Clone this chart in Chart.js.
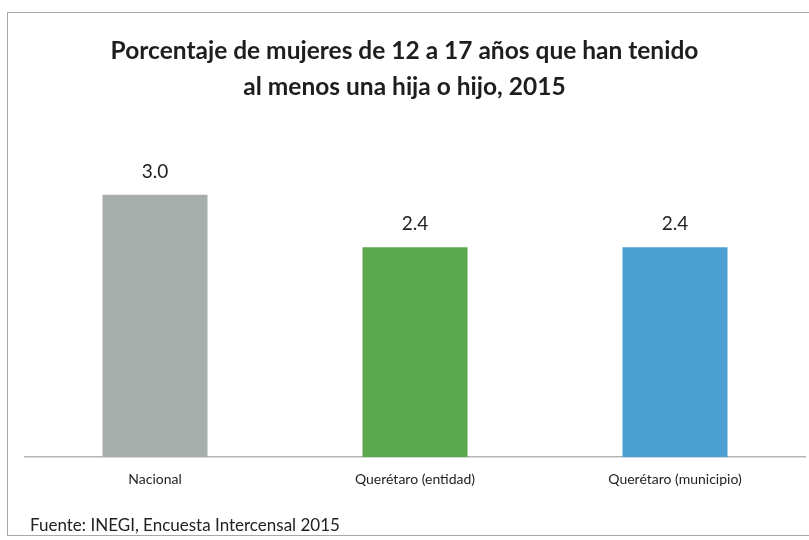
<!DOCTYPE html>
<html>
<head>
<meta charset="utf-8">
<script src="https://cdn.jsdelivr.net/npm/chart.js@4"></script>
<style>
  html, body { margin: 0; padding: 0; background: #fff; }
  #wrap { position: relative; width: 809px; height: 540px; overflow: hidden; background: #fff; }
  #frame { position: absolute; left: 7px; top: 12px; width: 820px; height: 524px; border: 1.5px solid #a8a8a8; box-sizing: border-box; }
  #title { position: absolute; left: 0; top: 32px; width: 809px; text-align: center; font-family: Lato, "Open Sans", sans-serif; font-weight: bold; font-size: 24.5px; line-height: 36px; color: #1e1e1e; }
  #source { position: absolute; left: 30px; top: 514px; font-family: Lato, "Open Sans", sans-serif; font-size: 17px; color: #222; }
  canvas { position: absolute; left: 0; top: 0; }
</style>
</head>
<body>
<div id="wrap">
  <div id="frame"></div>
  <canvas id="c" width="809" height="540"></canvas>
  <div id="title">Porcentaje de mujeres de 12 a 17 años que han tenido<br>al menos una hija o hijo, 2015</div>
  <div id="source">Fuente: INEGI, Encuesta Intercensal 2015</div>
</div>
<script>
const categories = ["Nacional", "Querétaro (entidad)", "Querétaro (municipio)"];
const values = [3.0, 2.4, 2.4];
const barColors = ["#a7aeab", "#5ba84e", "#4b9fd3"];

const valueLabels = {
  id: 'valueLabels',
  afterDatasetsDraw(chart) {
    const ctx = chart.ctx;
    const meta = chart.getDatasetMeta(0);
    ctx.save();
    ctx.font = '19px Lato, "Open Sans", sans-serif';
    ctx.fillStyle = '#222';
    ctx.textAlign = 'center';
    ctx.textBaseline = 'middle';
    meta.data.forEach((bar, i) => {
      ctx.fillText(values[i].toFixed(1), bar.x, bar.y - 23);
    });
    ctx.restore();
  }
};

new Chart(document.getElementById('c'), {
  type: 'bar',
  data: {
    labels: categories,
    datasets: [{
      data: values,
      backgroundColor: barColors,
      borderWidth: 0,
      barPercentage: 0.404,
      categoryPercentage: 1.0
    }]
  },
  options: {
    responsive: false,
    animation: false,
    layout: { padding: { left: 25, right: 4, top: 151, bottom: 38 } },
    plugins: { legend: { display: false }, title: { display: false }, tooltip: { enabled: false } },
    scales: {
      y: { display: false, min: 0, max: 3.5 },
      x: {
        grid: { display: false, drawTicks: false },
        border: { display: true, color: '#b5b5b5', width: 1.5 },
        ticks: { padding: 14, color: '#222', font: { family: 'Lato, "Open Sans", sans-serif', size: 14 } }
      }
    }
  },
  plugins: [valueLabels]
});
</script>
</body>
</html>
